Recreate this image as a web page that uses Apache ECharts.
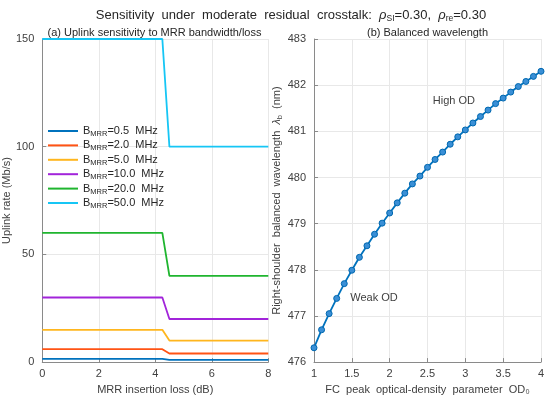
<!DOCTYPE html>
<html>
<head>
<meta charset="utf-8">
<script src="https://cdn.jsdelivr.net/npm/echarts@6/dist/echarts.min.js"></script>
<style>html,body{margin:0;padding:0;background:#fff}#c{width:550px;height:400px}</style>
</head>
<body>
<div id="c"></div>
<script>
// ---- Panel (a) data ----
var lossX = [0, 4.25, 4.5, 8];
var bwLabels = ['0.5', '2.0', '5.0', '10.0', '20.0', '50.0'];
var rate05 = [1.5, 1.5, 1.0, 1.0];
var rate2 = [6, 6, 4, 4];
var rate5 = [15, 15, 10, 10];
var rate10 = [30, 30, 20, 20];
var rate20 = [60, 60, 40, 40];
var rate50 = [150, 150, 100, 100];
var rateColors = ['#0072BD', '#FF5314', '#FFB61E', '#A224DA', '#1FB52F', '#16C6F5'];

// ---- Panel (b) data ----
var od0 = [1.0,1.1,1.2,1.3,1.4,1.5,1.6,1.7,1.8,1.9,2.0,2.1,2.2,2.3,2.4,2.5,2.6,2.7,2.8,2.9,3.0,3.1,3.2,3.3,3.4,3.5,3.6,3.7,3.8,3.9,4.0];
var lambdaB = [476.31,476.70,477.05,477.38,477.70,477.99,478.27,478.52,478.77,479.01,479.23,479.45,479.66,479.86,480.03,480.22,480.39,480.55,480.72,480.88,481.03,481.18,481.32,481.46,481.60,481.72,481.85,481.97,482.08,482.19,482.30];
var annotations = [
  {text: 'High OD', x: 2.57, y: 481.66},
  {text: 'Weak OD', x: 1.48, y: 477.40}
];

var FONT = 'Liberation Sans, Arial, Helvetica, sans-serif';
var TXT = '#404040';
var AX = '#8a8a8a';
var GRIDC = '#e8e8e8';

function zipXY(xs, ys) { return xs.map(function (x, i) { return [x, ys[i]]; }); }

var rateSets = [rate05, rate2, rate5, rate10, rate20, rate50];
var series = rateSets.map(function (vals, i) {
  return {
    name: 'bw' + i,
    type: 'line',
    xAxisIndex: 0, yAxisIndex: 0,
    data: zipXY(lossX, vals),
    symbol: 'none',
    lineStyle: {width: 1.8, color: rateColors[i]},
    itemStyle: {color: rateColors[i]},
    animation: false
  };
});
series.push({
  name: 'lambda',
  type: 'line',
  xAxisIndex: 1, yAxisIndex: 1,
  data: zipXY(od0, lambdaB),
  symbol: 'circle',
  symbolSize: 6,
  lineStyle: {width: 1.8, color: '#0072BD'},
  itemStyle: {color: '#3A8FD6', borderColor: '#0068B0', borderWidth: 1},
  animation: false,
  markPoint: {
    symbol: 'circle', symbolSize: 0,
    label: {show: true, position: 'right', distance: 0, color: TXT, fontFamily: FONT, fontSize: 11,
      formatter: function (p) { return p.name; }},
    data: annotations.map(function (a) { return {name: a.text, coord: [a.x, a.y]}; })
  }
});

function axisCommon() {
  return {
    axisLine: {show: true, lineStyle: {color: AX, width: 1}},
    axisTick: {show: true, inside: true, length: 4, lineStyle: {color: AX}},
    axisLabel: {color: TXT, fontFamily: FONT, fontSize: 11},
    splitLine: {show: true, lineStyle: {color: GRIDC, width: 1}},
    nameTextStyle: {color: TXT, fontFamily: FONT, fontSize: 11},
    nameLocation: 'middle'
  };
}
function mk(o) { var a = axisCommon(); for (var k in o) a[k] = o[k]; return a; }

var option = {
  backgroundColor: '#fff',
  animation: false,
  textStyle: {fontFamily: FONT},
  title: [
    {text: 'Sensitivity  under  moderate  residual  crosstalk:  {r|ρ}{s|SI}{t|=0.30,  }{r|ρ}{s|re}{t|=0.30}',
     left: 291, top: 7, padding: 0, textAlign: 'center',
     textStyle: {fontFamily: FONT, fontSize: 13, fontWeight: 'normal', color: '#262626',
       rich: {
         r: {fontFamily: FONT, fontSize: 13, fontStyle: 'italic', color: '#262626'},
         s: {fontFamily: FONT, fontSize: 8.5, color: '#262626', padding: [7, 0, 0, 0]},
         t: {fontFamily: FONT, fontSize: 13, color: '#262626'}
       }}},
    {text: '(a) Uplink sensitivity to MRR bandwidth/loss', left: 154.5, top: 27, padding: 0, textAlign: 'center',
     textStyle: {fontFamily: FONT, fontSize: 11, fontWeight: 'normal', color: '#262626'}},
    {text: '(b) Balanced wavelength', left: 427.5, top: 27, padding: 0, textAlign: 'center',
     textStyle: {fontFamily: FONT, fontSize: 11, fontWeight: 'normal', color: '#262626'}}
  ],
  legend: {
    show: true,
    data: series.slice(0, 6).map(function (s) { return s.name; }),
    orient: 'vertical',
    left: 48, top: 124, padding: 0,
    itemWidth: 30, itemHeight: 8, itemGap: 0.4,
    icon: 'path://M0,0 L30,0 L30,2 L0,2 Z',
    formatter: function (name) {
      var i = +name.replace('bw', '');
      return '{a|B}{s|MRR}{a|=' + bwLabels[i] + '  MHz}';
    },
    textStyle: {fontFamily: FONT, fontSize: 11, color: '#262626',
      rich: {
        a: {fontFamily: FONT, fontSize: 11, color: '#262626', lineHeight: 14},
        s: {fontFamily: FONT, fontSize: 7.5, color: '#262626', lineHeight: 8, padding: [6, 0, 0, 0]}
      }}
  },
  grid: [
    {left: 40.7, top: 39, width: 227.6, height: 327, containLabel: false},
    {left: 314, top: 39, width: 227, height: 327, containLabel: false}
  ],
  xAxis: [
    mk({gridIndex: 0, type: 'value', min: 0, max: 8, interval: 2,
        name: 'MRR insertion loss (dB)', nameGap: 18,
        axisLabel: {color: TXT, fontFamily: FONT, fontSize: 11, margin: 6}}),
    mk({gridIndex: 1, type: 'value', min: 1, max: 4, interval: 0.5,
        name: 'FC  peak  optical-density  parameter  OD₀', nameGap: 18,
        axisLabel: {color: TXT, fontFamily: FONT, fontSize: 11, margin: 6}})
  ],
  yAxis: [
    mk({gridIndex: 0, type: 'value', min: 0, max: 150, interval: 50,
        name: 'Uplink rate (Mb/s)', nameGap: 22}),
    mk({gridIndex: 1, type: 'value', min: 476, max: 483, interval: 1,
        name: 'Right-shoulder  balanced  wavelength  {r|λ}{s|b}  (nm)', nameGap: 25,
        nameTextStyle: {color: TXT, fontFamily: FONT, fontSize: 11,
          rich: {
            r: {fontFamily: FONT, fontSize: 11, fontStyle: 'italic', color: TXT},
            s: {fontFamily: FONT, fontSize: 7.5, color: TXT, padding: [6, 0, 0, 0]}
          }}})
  ],
  series: series
};

var chart = echarts.init(document.getElementById('c'), null, {renderer: 'canvas'});
chart.setOption(option);
</script>
</body>
</html>
